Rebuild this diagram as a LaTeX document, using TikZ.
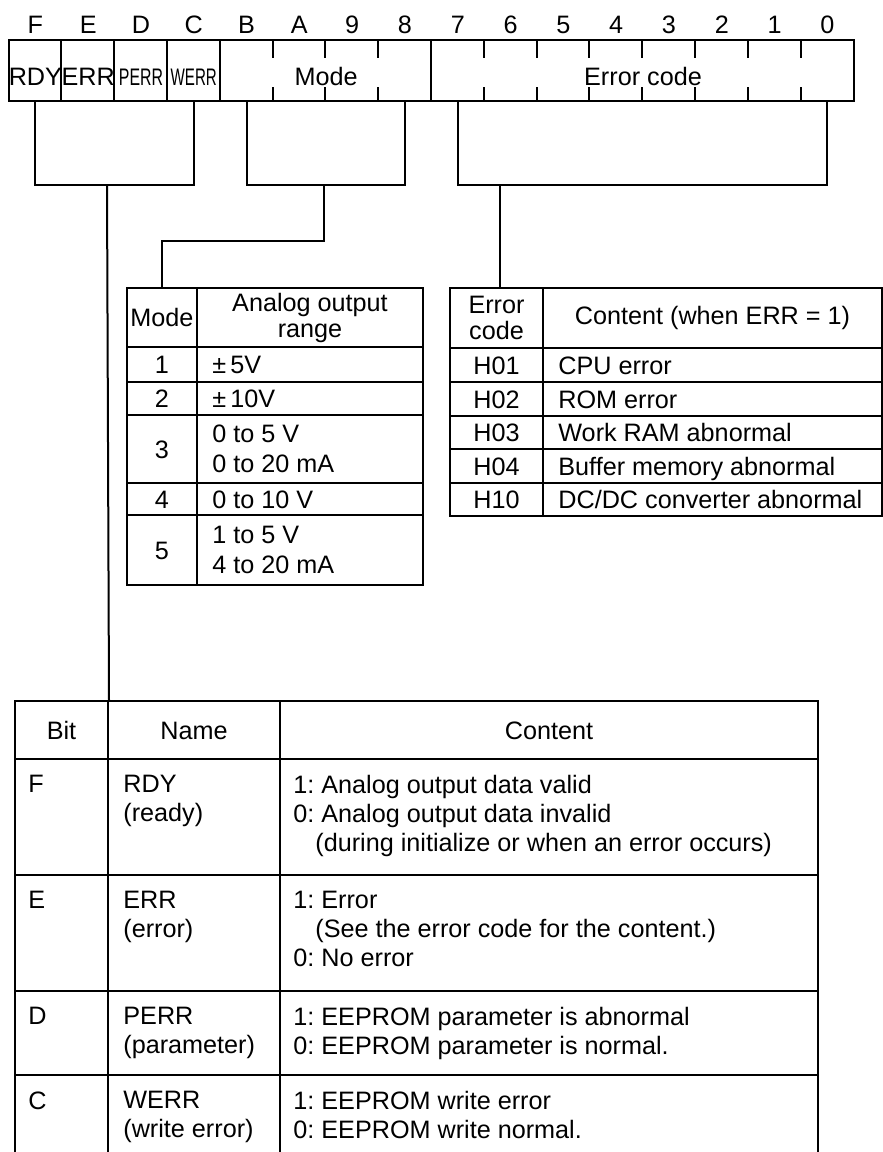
\documentclass[tikz,border=0pt]{standalone}
\usepackage{fontspec}
\setmainfont{Liberation Sans}
\tikzset{
  txt/.style     = {inner sep=0pt, font=\fontsize{12.6}{14.5}\selectfont\frenchspacing},
  hdtxt/.style   = {txt, align=center, font=\fontsize{12.6}{13}\selectfont\frenchspacing},
  ln/.style      = {line width=1pt},
  regcell/.style = {minimum width=26.4pt, minimum height=30.15pt, inner sep=0pt},
  cellbox/.style = {draw, line width=1pt, inner sep=0pt, anchor=north west}
}

\begin{document}
\begin{tikzpicture}[x=0.5pt, y=-0.5pt]
  \useasboundingbox (0,0) rectangle (883,1152);

  % register with bit numbers
  \foreach \b [count=\i from 0] in {F,E,D,C,B,A,9,8,7,6,5,4,3,2,1,0} {
    \node[regcell] (r\b) at (35.4+52.8*\i, 70.85) {};
    \node[txt, anchor=base] at ([shift={(0,-7)}]r\b.north) {\b};
  }
  \draw[ln] (rF.north west) rectangle (r0.south east);
  \foreach \b in {E,D,C,B,7}
    \draw[ln] (r\b.north west) -- (r\b.south west);
  \foreach \b in {A,9,8,6,5,4,3,2,1,0} {
    \draw[ln] (r\b.north west) -- ++(0,18);
    \draw[ln] (r\b.south west) -- ++(0,-14);
  }
  \node[txt, anchor=base] at ([shift={(0,15)}]rF.center) {RDY};
  \node[txt, anchor=base] at ([shift={(0,15)}]rE.center) {ERR};
  \node[txt, anchor=base] at ([shift={(0,15)}]rD.center) {\scalebox{0.63}[0.95]{PERR}};
  \node[txt, anchor=base] at ([shift={(0,15)}]rC.center) {\scalebox{0.6}[0.95]{WERR}};
  \node[txt, anchor=base] at ([shift={(0,15)}]rA.east) {Mode};
  \node[txt, anchor=base] at ([shift={(0,15)}]r4.east) {Error code};

  % mode table
  \foreach \n/\y/\h in {0/287/59, 1/346/35, 2/381/33, 3/414/68, 4/482/32, 5/514/70} {
    \node[cellbox, minimum width=35pt, minimum height=\h*0.5pt] (mk\n) at (126,\y) {};
    \node[cellbox, minimum width=113pt, minimum height=\h*0.5pt] (mv\n) at (196,\y) {};
  }
  \node[hdtxt] at (mk0) {Mode};
  \node[hdtxt] at (mv0) {Analog output\\range};
  \foreach \n in {1,...,5}
    \node[txt, anchor=base] at ([shift={(0,9)}]mk\n.center) {\n};
  \node[txt, anchor=base west] at ([shift={(16,9)}]mv1.west) {±\,5V};
  \node[txt, anchor=base west] at ([shift={(16,9)}]mv2.west) {±\,10V};
  \node[txt, anchor=west, align=left, font=\fontsize{12.6}{15}\selectfont] at ([shift={(16,0)}]mv3.west) {0 to 5 V\\0 to 20 mA};
  \node[txt, anchor=base west] at ([shift={(16,9)}]mv4.west) {0 to 10 V};
  \node[txt, anchor=west, align=left, font=\fontsize{12.6}{15}\selectfont] at ([shift={(16,0)}]mv5.west) {1 to 5 V\\4 to 20 mA};

  % error code table
  \foreach \n/\y/\h in {0/287/60, 1/347/34, 2/381/34, 3/415/33, 4/448/34, 5/482/33} {
    \node[cellbox, minimum width=46.5pt, minimum height=\h*0.5pt] (ek\n) at (449,\y) {};
    \node[cellbox, minimum width=169.5pt, minimum height=\h*0.5pt] (ev\n) at (542,\y) {};
  }
  \node[hdtxt] at (ek0) {Error\\code};
  \node[hdtxt] at (ev0) {Content (when ERR = 1)};
  \foreach \n/\c/\t in {1/H01/CPU error, 2/H02/ROM error, 3/H03/Work RAM abnormal,
                        4/H04/Buffer memory abnormal, 5/H10/{DC/DC converter abnormal}} {
    \node[txt, anchor=base] at ([shift={(0,9)}]ek\n.center) {\c};
    \node[txt, anchor=base west] at ([shift={(16,9)}]ev\n.west) {\t};
  }

  % bit table
  \foreach \n/\y/\h in {0/700/58, 1/758/116, 2/874/116, 3/990/84, 4/1074/82} {
    \node[cellbox, minimum width=46.5pt, minimum height=\h*0.5pt] (bb\n) at (14,\y) {};
    \node[cellbox, minimum width=86pt, minimum height=\h*0.5pt] (bn\n) at (107,\y) {};
    \node[cellbox, minimum width=269pt, minimum height=\h*0.5pt] (bc\n) at (279,\y) {};
  }
  \node[txt, anchor=base] at ([shift={(0,9)}]bb0.center) {Bit};
  \node[txt, anchor=base] at ([shift={(0,9)}]bn0.center) {Name};
  \node[txt, anchor=base] at ([shift={(0,9)}]bc0.center) {Content};
  \foreach \n/\b in {1/F, 2/E, 3/D, 4/C}
    \node[txt, anchor=north west] at ([shift={(14,17)}]bb\n.north west) {\b};
  \node[txt, anchor=north west, align=left] at ([shift={(16,17)}]bn1.north west) {RDY\\(ready)};
  \node[txt, anchor=north west, align=left] at ([shift={(16,17)}]bn2.north west) {ERR\\(error)};
  \node[txt, anchor=north west, align=left] at ([shift={(16,17)}]bn3.north west) {PERR\\(parameter)};
  \node[txt, anchor=north west, align=left] at ([shift={(16,17)}]bn4.north west) {WERR\\(write error)};
  \node[txt, anchor=north west, align=left] at ([shift={(14,17)}]bc1.north west)
    {1: Analog output data valid\\0: Analog output data invalid\\\hspace*{11pt}(during initialize or when an error occurs)};
  \node[txt, anchor=north west, align=left] at ([shift={(14,17)}]bc2.north west)
    {1: Error\\\hspace*{11pt}(See the error code for the content.)\\0: No error};
  \node[txt, anchor=north west, align=left] at ([shift={(14,17)}]bc3.north west)
    {1: EEPROM parameter is abnormal\\0: EEPROM parameter is normal.};
  \node[txt, anchor=north west, align=left] at ([shift={(14,17)}]bc4.north west)
    {1: EEPROM write error\\0: EEPROM write normal.};

  % brackets from the register to the tables
  \coordinate (jst) at (107,185);
  \coordinate (jmd) at (324,185);
  \coordinate (kmd) at (324,241);
  \coordinate (jer) at (500,185);
  \draw[ln] (rF.south) |- (jst) -| (rC.south);
  \draw[ln] (jst) -- (bb0.north east);
  \draw[ln] (rB.south) |- (jmd) -| (r8.south);
  \draw[ln] (jmd) -- (kmd) -| (mk0.north);
  \draw[ln] (r7.south) |- (jer) -| (r0.south);
  \draw[ln] (jer) -- (jer |- ek0.north);
\end{tikzpicture}
\end{document}
